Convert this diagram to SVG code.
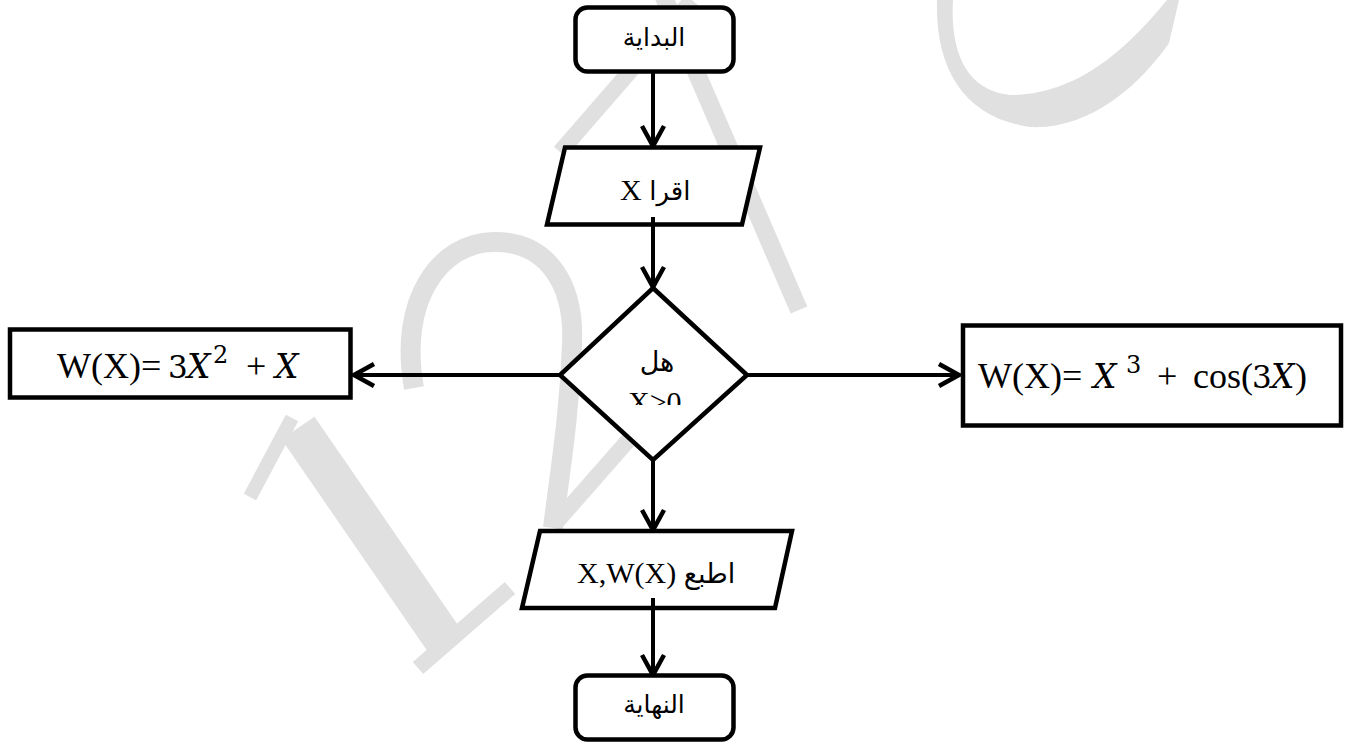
<svg xmlns="http://www.w3.org/2000/svg" width="1354" height="745" viewBox="0 0 1354 745">
  <style>
    .shape { fill: #ffffff; stroke: #000000; stroke-width: 4.5; stroke-linejoin: miter; }
    .conn { fill: none; stroke: #000000; stroke-width: 4; }
    .wm { fill: none; stroke: #e0e0e0; }
    .serif { font-family: 'Liberation Serif', 'Times New Roman', serif; fill: #000000; }
    .math { font-family: 'DejaVu Serif', 'Liberation Serif', serif; fill: #000000; }
    .ar { font-family: 'DejaVu Sans', 'Noto Sans', sans-serif; fill: #000000; }
  </style>
  <defs>
    <marker id="arrow" markerUnits="userSpaceOnUse" markerWidth="30" markerHeight="30" viewBox="-24 -15 30 30" refX="0" refY="0" orient="auto">
      <path d="M -20,-11 L 0,0 L -20,11" fill="none" stroke="#000000" stroke-width="4.5" stroke-linejoin="miter"/>
    </marker>
    <clipPath id="clipDiamondText">
      <rect x="600" y="380" width="120" height="25"/>
    </clipPath>
  </defs>
  <rect x="0" y="0" width="1354" height="745" fill="#ffffff"/>

  <g id="watermark">
    <path class="wm" d="M 298,428 L 444,640" stroke-width="40"/>
    <path class="wm" d="M 292,418 L 250,497" stroke-width="14"/>
    <path class="wm" d="M 418,668 L 510,588" stroke-width="16"/>
    <path class="wm" d="M 414,388 C 398,300 440,243 493,242 C 548,241 575,285 572,345 C 569,420 560,470 553,528" stroke-width="20"/>
    <path class="wm" d="M 553,526 L 632,436" stroke-width="16"/>
    <path class="wm" d="M 560,152 L 692,0" stroke-width="16"/>
    <path class="wm" d="M 663,-5 L 799,310" stroke-width="18"/>
    <path d="M 937,0 C 935,70 965,118 1030,127 C 1090,130 1140,85 1169,43 L 1179,0 L 1167,0 C 1130,45 1080,95 1010,95 C 965,90 950,50 953,0 Z" fill="#e0e0e0"/>
  </g>

  <g id="connectors">
    <line class="conn" x1="653" y1="72" x2="653" y2="146" marker-end="url(#arrow)"/>
    <line class="conn" x1="653" y1="217" x2="653" y2="287" marker-end="url(#arrow)"/>
    <line class="conn" x1="560" y1="375" x2="354" y2="375" marker-end="url(#arrow)"/>
    <line class="conn" x1="747" y1="375" x2="959" y2="375" marker-end="url(#arrow)"/>
    <line class="conn" x1="653" y1="460" x2="653" y2="530" marker-end="url(#arrow)"/>
    <line class="conn" x1="653" y1="598" x2="653" y2="675" marker-end="url(#arrow)"/>
  </g>

  <g id="start">
    <rect class="shape" x="575.5" y="7.5" width="158" height="64" rx="12"/>
    <text class="ar" x="654" y="46" font-size="25" text-anchor="middle">البداية</text>
  </g>

  <g id="read">
    <polygon class="shape" points="565,147.5 760,147.5 742,224.5 547,224.5"/>
    <line class="conn" x1="653" y1="217" x2="653" y2="226"/>
    <text x="620" y="200"><tspan class="serif" font-size="30">X </tspan><tspan class="ar" font-size="26">اقرا</tspan></text>
  </g>

  <g id="decision">
    <polygon class="shape" points="653,288 747,375 653,460 560,375"/>
    <text class="ar" x="657" y="371" font-size="27" text-anchor="middle">هل</text>
    <text class="serif" x="628" y="412" font-size="30" clip-path="url(#clipDiamondText)">X&gt;0</text>
  </g>

  <g id="left-box">
    <rect class="shape" x="10" y="329.5" width="340.5" height="68"/>
    <text y="378">
      <tspan class="serif" x="57" font-size="36">W(X)=</tspan>
      <tspan class="math" x="168" font-size="31">3</tspan>
      <tspan class="math" x="187" font-size="33" font-style="italic">X</tspan>
      <tspan class="math" x="213" y="363" font-size="24">2</tspan>
      <tspan class="serif" x="246" y="378" font-size="36">+</tspan>
      <tspan class="math" x="275" font-size="33" font-style="italic">X</tspan>
    </text>
  </g>

  <g id="right-box">
    <rect class="shape" x="963" y="325.5" width="378" height="100"/>
    <text y="388">
      <tspan class="serif" x="978" font-size="36">W(X)=</tspan>
      <tspan class="math" x="1093" font-size="33" font-style="italic">X</tspan>
      <tspan class="math" x="1126" y="373" font-size="24">3</tspan>
      <tspan class="serif" x="1157" y="388" font-size="36">+</tspan>
      <tspan class="serif" x="1193" font-size="36">cos(</tspan>
      <tspan class="math" x="1252" font-size="31">3</tspan>
      <tspan class="math" x="1271" font-size="33" font-style="italic">X</tspan>
      <tspan class="serif" x="1295" font-size="36">)</tspan>
    </text>
  </g>

  <g id="print">
    <polygon class="shape" points="540,531 792,531 775,608 522,608"/>
    <line class="conn" x1="653" y1="598" x2="653" y2="610"/>
    <text x="577" y="583"><tspan class="serif" font-size="30">X,W(X) </tspan><tspan class="ar" font-size="27">اطبع</tspan></text>
  </g>

  <g id="end">
    <rect class="shape" x="575.5" y="675.5" width="158" height="64" rx="12"/>
    <text class="ar" x="654" y="713" font-size="25" text-anchor="middle">النهاية</text>
  </g>
</svg>
